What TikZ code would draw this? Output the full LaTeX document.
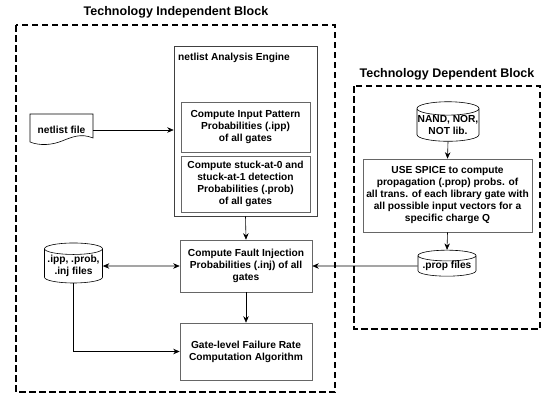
\documentclass[tikz,border=0pt]{standalone}
\usepackage{fontspec}
\setmainfont{Liberation Sans}
\usetikzlibrary{shapes.geometric,arrows.meta,positioning}

\tikzset{
	txt/.style={font=\bfseries\fontsize{10.2}{12}\selectfont},
	proc/.style={txt, draw=black!60, line width=0.6pt, align=center, inner sep=1pt},
	store/.style={txt, cylinder, shape border rotate=90, aspect=0.22, draw, line width=0.6pt,
		align=center, inner sep=0pt},
	blk/.style={draw, line width=1.1pt, dash pattern=on 6.5pt off 3.5pt},
	blktitle/.style={font=\bfseries\fontsize{12.5}{14}\selectfont},
	tip/.tip={Stealth[length=6.5pt,width=5.5pt]},
	flow/.style={-tip, line width=0.6pt}
}

\begin{document}
\begin{tikzpicture}[x=1pt,y=-1pt]
	\useasboundingbox (0,0) rectangle (546,394);
	% the two blocks
	\draw [blk] (16,25) rectangle (335,392);
	\node [blktitle] (indeptitle) at (176,12) {Technology Independent Block};
	\draw [blk] (354,86) rectangle (540,329);
	\node [blktitle] (deptitle) at (447,74) {Technology Dependent Block};
	% independent part
	\node [proc, draw=black!75, minimum width=143pt, minimum height=170pt] (eng) at (245.5,131) {};
	\node [txt, anchor=west, inner sep=0pt] (englabel) at (178,58) {netlist Analysis Engine};
	\node [proc, minimum width=129pt, minimum height=50pt] (ipp) at (245.5,127) {Compute Input Pattern\\Probabilities (.ipp)\\of all gates};
	\node [proc, minimum width=129pt, minimum height=56pt] (prob) at (245.5,184) {Compute stuck-at-0 and\\stuck-at-1 detection\\Probabilities (.prob)\\of all gates};
	\node [proc, minimum width=132pt, minimum height=52pt] (fault) at (246,266) {Compute Fault Injection\\Probabilities (.inj) of all\\gates};
	\node [proc, minimum width=132pt, minimum height=57pt] (gate) at (246,351.5) {Gate-level Failure Rate\\Computation Algorithm};
	\node [txt, minimum width=63pt, minimum height=20pt, inner sep=0pt] (nf) at (61.5,130) {netlist file};
	\draw [line width=0.6pt] (30,114) -- (93,114) -- (93,138)
		.. controls (81,133) and (72,137) .. (62,141)
		.. controls (52,145) and (40,146) .. (30,142) -- cycle;
	\node [store, minimum width=58pt, minimum height=40pt] (files) at (73.5,266) {.ipp, .prob,\\.inj files};
	% dependent part
	\node [store, minimum width=62pt, minimum height=36pt] (lib) at (448,125) {NAND, NOR,\\NOT lib.};
	\node [proc, minimum width=169pt, minimum height=73pt] (spice) at (447.5,195.5) {USE SPICE to compute\\propagation (.prop) probs. of\\all trans. of each library gate with\\all possible input vectors for a\\specific charge Q};
	\node [store, minimum width=58pt, minimum height=26pt] (prop) at (447,266) {.prop files};
	% connectors
	\draw [flow] (nf.east) -- (eng.west |- nf.east);
	\draw [flow] (eng.south) -- (fault.north);
	\draw [flow] (fault.south) -- (gate.north);
	\draw [tip-tip, line width=0.6pt] (files.east) -- (fault.west);
	\draw [flow] (files.south) |- (gate.west);
	\draw [flow] (lib.south) -- (spice.north);
	\draw [flow] (spice.south) -- (prop.north);
	\draw [flow] (prop.west) -- (fault.east);
\end{tikzpicture}
\end{document}
